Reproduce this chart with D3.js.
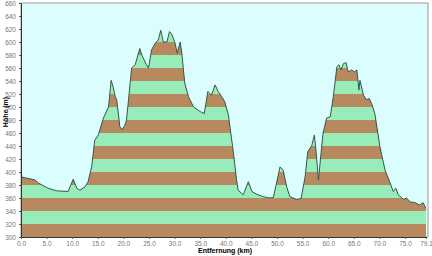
<!DOCTYPE html>
<html><head><meta charset="utf-8">
<script src="https://cdn.jsdelivr.net/npm/d3@7"></script>
<style>body{margin:0;background:#fff}svg{display:block}</style>
</head><body>
<svg id="c" width="432" height="256"></svg>
<script>
const distKm = [0,0.2,2.7,3.4,5.3,7,9.2,10.2,10.9,11.5,12.5,13.1,13.8,14.4,15.1,15.4,16.1,17.1,17.6,18,18.4,18.7,19.3,19.7,20.3,20.6,21,21.6,22.3,23.2,23.6,24.5,24.9,25.5,26.2,26.8,27.3,27.8,28.5,29,29.4,30.1,30.5,31.1,31.4,32,32.7,33.7,35,35.8,36.5,37.2,37.9,38.5,39.2,39.8,40.5,41.5,42.1,42.4,43.4,44.4,45.1,46,47.3,48.6,49.3,49.9,50.6,51.2,51.9,52.5,53.8,54.7,55.5,56,56.8,57.3,57.6,58.1,58.6,59,59.7,60.4,61,61.7,62.1,62.5,63,63.5,63.9,64.6,65.1,65.6,66,66.2,66.9,67.5,68,68.5,69.1,70.1,71.1,72.1,72.7,73.2,73.7,74.7,75.3,76,76.9,77.9,78.5,79.1];
const elevM = [399,392,388,383,375,371,370,389,375,372,377,385,408,449,457,465,483,500,541,531,516,511,470,465,472,480,511,560,565,590,580,565,560,588,598,603,618,600,600,616,613,598,583,600,583,536,516,500,493,490,524,518,534,524,516,508,488,429,388,372,365,385,370,366,362,360,361,383,408,403,377,362,358,359,393,431,441,457,434,388,429,460,483,485,516,562,565,557,567,568,554,557,554,557,526,541,518,511,513,505,490,439,403,383,370,375,365,358,360,354,353,349,353,344];
const yTicks = d3.range(300, 661, 20);
const xTicks = [0,5,10,15,20,25,30,35,40,45,50,55,60,65,70,75,79.1];
const bandStart = d3.range(300, 660, 20);
const yLabel = "Höhe (m)";
const xLabel = "Entfernung  (km)";

const svg = d3.select("#c");
const L = 21, R = 426, T = 3, B = 237;
const x = d3.scaleLinear().domain([0, 79.1]).range([L, R]);
const y = d3.scaleLinear().domain([300, 660]).range([B, T]);
const pts = distKm.map((d, i) => [d, elevM[i]]);

svg.append("rect").attr("x", L).attr("y", T).attr("width", 428 - L).attr("height", B - T)
  .attr("fill", "#dcfdfd").attr("stroke", "#999").attr("stroke-width", 1);

const area = d3.area().x(d => x(d[0])).y0(y(300)).y1(d => y(d[1]));
svg.append("clipPath").attr("id", "cp").append("path").attr("d", area(pts));
const g = svg.append("g").attr("clip-path", "url(#cp)");
g.selectAll("rect").data(bandStart).join("rect")
  .attr("x", L).attr("width", R - L)
  .attr("y", d => y(d + 20)).attr("height", d => y(d) - y(d + 20))
  .attr("fill", d => ((d - 300) / 20) % 2 === 0 ? "#b8895e" : "#98ecba");

const line = d3.line().x(d => x(d[0])).y(d => y(d[1]));
svg.append("path").attr("d", line(pts)).attr("fill", "none").attr("stroke", "#2e5a4c").attr("stroke-width", 1);

const ya = svg.append("g").attr("transform", `translate(${L},0)`)
  .call(d3.axisLeft(y).tickValues(yTicks).tickSize(2).tickFormat(d3.format("d")));
const xa = svg.append("g").attr("transform", `translate(0,${B})`)
  .call(d3.axisBottom(x).tickValues(xTicks).tickSize(2).tickPadding(2).tickFormat(d3.format(".1f")));
[ya, xa].forEach(a => {
  a.select(".domain").attr("stroke", "#333");
  a.selectAll(".tick line").attr("stroke", "#555");
  a.selectAll("text").attr("fill", "#777").style("font-family", "Arial, 'Liberation Sans', sans-serif").style("font-size", "6.5px");
});

svg.append("text").attr("transform", "translate(8,112) rotate(-90)").attr("text-anchor", "middle")
  .style("font-family", "Arial, 'Liberation Sans', sans-serif").style("font-size", "7px").style("font-weight", "bold")
  .text(yLabel);
svg.append("text").attr("x", 225).attr("y", 253).attr("text-anchor", "middle")
  .style("font-family", "Arial, 'Liberation Sans', sans-serif").style("font-size", "7px").style("font-weight", "bold")
  .text(xLabel);
</script>
</body></html>
